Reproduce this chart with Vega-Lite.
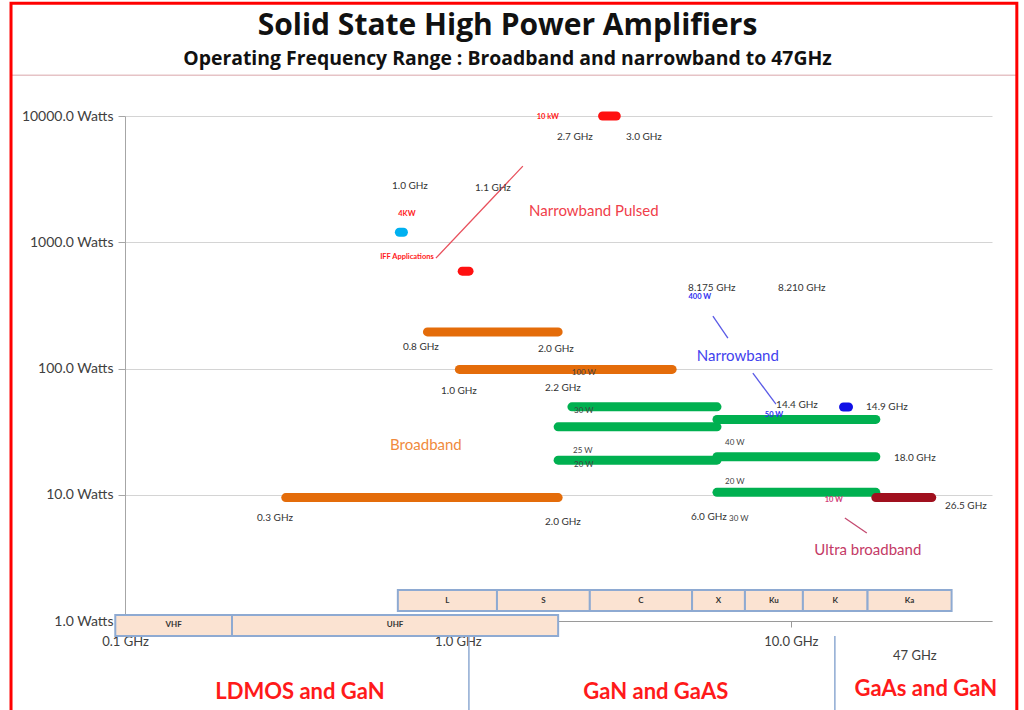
{
  "$schema": "https://vega.github.io/schema/vega-lite/v6.json",
  "width": 867,
  "height": 505,
  "autosize": {"type": "none"},
  "padding": {"left": 125, "top": 116, "right": 32, "bottom": 89},
  "background": "white",
  "title": {
    "text": "Solid State High Power Amplifiers",
    "subtitle": "Operating Frequency Range : Broadband and narrowband  to 47GHz",
    "anchor": "middle",
    "frame": "group",
    "dx": -51,
    "offset": -67,
    "font": "Open Sans",
    "fontSize": 30,
    "fontWeight": "bold",
    "color": "#111111",
    "subtitleFont": "Open Sans",
    "subtitleFontSize": 19.4,
    "subtitleFontWeight": "bold",
    "subtitleColor": "#111111",
    "subtitlePadding": 9
  },
  "datasets": {
    "frame": [{"f0": 0.04546, "f1": 47.73, "w0": 0.19, "w1": 78170}],
    "header": [{"f0": 0.04546, "f1": 47.73, "w": 21040}],
    "bars": [
      {"kind": "Broadband", "f0": 0.81, "f1": 2.0, "w": 195},
      {"kind": "Broadband", "f0": 1.01, "f1": 4.4, "w": 98.4},
      {"kind": "Broadband", "f0": 0.304, "f1": 2.0, "w": 9.5},
      {"kind": "GaN", "f0": 2.2, "f1": 6.0, "w": 49.7},
      {"kind": "GaN", "f0": 2.0, "f1": 6.0, "w": 34.5},
      {"kind": "GaN", "f0": 6.0, "f1": 18.0, "w": 39.5},
      {"kind": "GaN", "f0": 6.0, "f1": 18.0, "w": 20},
      {"kind": "GaN", "f0": 2.0, "f1": 6.0, "w": 18.8},
      {"kind": "GaN", "f0": 6.0, "f1": 18.0, "w": 10.45},
      {"kind": "Ultra broadband", "f0": 18.0, "f1": 26.5, "w": 9.5},
      {"kind": "Pulsed", "f0": 2.72, "f1": 2.99, "w": 10000},
      {"kind": "Pulsed", "f0": 1.03, "f1": 1.08, "w": 590},
      {"kind": "Pulsed L", "f0": 0.667, "f1": 0.686, "w": 1200},
      {"kind": "Narrowband", "f0": 14.4, "f1": 14.9, "w": 49.5}
    ],
    "leaders": [
      {"kind": "Pulsed", "f0": 0.8587, "w0": 748, "f1": 1.567, "w1": 4005},
      {"kind": "Narrowband", "f0": 5.833, "w0": 260, "f1": 6.47, "w1": 174},
      {"kind": "Narrowband", "f0": 7.69, "w0": 91.9, "f1": 9.02, "w1": 52.3},
      {"kind": "Ultra broadband", "f0": 14.53, "w0": 6.54, "f1": 16.91, "w1": 4.97}
    ],
    "bands": [
      {"band": "VHF", "f0": 0.0935, "f1": 0.2096, "w0": 0.761, "w1": 1.116},
      {"band": "UHF", "f0": 0.2096, "f1": 2.0, "w0": 0.761, "w1": 1.116},
      {"band": "L", "f0": 0.66, "f1": 1.31, "w0": 1.2, "w1": 1.76},
      {"band": "S", "f0": 1.31, "f1": 2.49, "w0": 1.2, "w1": 1.76},
      {"band": "C", "f0": 2.49, "f1": 5.05, "w0": 1.2, "w1": 1.76},
      {"band": "X", "f0": 5.05, "f1": 7.28, "w0": 1.2, "w1": 1.76},
      {"band": "Ku", "f0": 7.28, "f1": 10.87, "w0": 1.2, "w1": 1.76},
      {"band": "K", "f0": 10.87, "f1": 17.0, "w0": 1.2, "w1": 1.76},
      {"band": "Ka", "f0": 17.0, "f1": 30.4, "w0": 1.2, "w1": 1.76}
    ],
    "dividers": [
      {"f": 1.079, "w0": 0.761, "w1": 0.19},
      {"f": 13.56, "w0": 0.761, "w1": 0.19}
    ],
    "freqLabels": [
      {"label": "2.7 GHz", "f": 2.245, "w": 6795},
      {"label": "3.0 GHz", "f": 3.62, "w": 6795},
      {"label": "1.0 GHz", "f": 0.7177, "w": 2782},
      {"label": "1.1 GHz", "f": 1.274, "w": 2682},
      {"label": "8.175 GHz", "f": 5.79, "w": 433},
      {"label": "8.210 GHz", "f": 10.79, "w": 433},
      {"label": "0.8 GHz", "f": 0.774, "w": 147.7},
      {"label": "2.0 GHz", "f": 1.969, "w": 142.4},
      {"label": "1.0 GHz", "f": 1.007, "w": 66.2},
      {"label": "2.2 GHz", "f": 2.067, "w": 70.0},
      {"label": "14.4 GHz", "f": 10.43, "w": 51.3},
      {"label": "14.9 GHz", "f": 19.43, "w": 49.5},
      {"label": "18.0 GHz", "f": 23.57, "w": 19.53},
      {"label": "26.5 GHz", "f": 33.55, "w": 8.14},
      {"label": "0.3 GHz", "f": 0.2822, "w": 6.54},
      {"label": "2.0 GHz", "f": 2.067, "w": 6.08},
      {"label": "6.0 GHz", "f": 5.673, "w": 6.66}
    ],
    "wattLabels": [
      {"label": "100 W", "f": 2.389, "w": 91.9},
      {"label": "30 W", "f": 2.389, "w": 46.0},
      {"label": "40 W", "f": 6.79, "w": 25.7},
      {"label": "25 W", "f": 2.373, "w": 22.18},
      {"label": "20 W", "f": 2.389, "w": 17.19},
      {"label": "20 W", "f": 6.79, "w": 12.61},
      {"label": "30 W", "f": 6.98, "w": 6.42}
    ],
    "notes": [
      {"label": "10 kW", "f": 1.863, "w": 9784, "kind": "Pulsed"},
      {"label": "4KW", "f": 0.7029, "w": 1669, "kind": "Pulsed"},
      {"label": "IFF Applications", "f": 0.7029, "w": 762, "kind": "Pulsed"},
      {"label": "400 W", "f": 5.33, "w": 367.6, "kind": "Narrowband"},
      {"label": "50 W", "f": 8.9, "w": 42.8, "kind": "Narrowband"},
      {"label": "10 W", "f": 13.46, "w": 9.08, "kind": "Ultra broadband"}
    ],
    "categories": [
      {"label": "Narrowband Pulsed", "f": 2.561, "w": 1763, "kind": "Pulsed"},
      {"label": "Narrowband", "f": 6.93, "w": 125.4, "kind": "Narrowband"},
      {"label": "Broadband", "f": 0.8014, "w": 24.75, "kind": "Broadband"},
      {"label": "Ultra broadband", "f": 17.03, "w": 3.65, "kind": "Ultra broadband"}
    ],
    "tech": [
      {"label": "LDMOS and GaN", "f": 0.3353, "w": 0.274},
      {"label": "GaN and GaAS", "f": 3.93, "w": 0.274},
      {"label": "GaAs and GaN", "f": 25.43, "w": 0.2894}
    ],
    "axisNote": [
      {"label": "47 GHz", "f": 23.57, "w": 0.528}
    ]
  },
  "layer": [
    {
      "data": {"name": "bars"},
      "mark": {"type": "rule", "strokeWidth": 9, "strokeCap": "round"},
      "encoding": {
        "x": {
          "field": "f0", "type": "quantitative",
          "scale": {"type": "log", "domain": [0.1, 40.2], "nice": false},
          "axis": {
            "values": [0.1, 1, 10],
            "labelExpr": "format(datum.value, '.1f') + ' GHz'",
            "title": null, "grid": false,
            "domainColor": "#9a9a9a", "tickColor": "#9a9a9a", "tickSize": 6,
            "labelPadding": 8, "labelFont": "Lato", "labelFontSize": 13,
            "labelColor": "#404040", "labelFlush": false, "labelOverlap": false
          }
        },
        "x2": {"field": "f1"},
        "y": {
          "field": "w", "type": "quantitative",
          "scale": {"type": "log", "domain": [1, 10000], "nice": false},
          "axis": {
            "values": [1, 10, 100, 1000, 10000],
            "labelExpr": "format(datum.value, '.1f') + ' Watts'",
            "title": null, "grid": true, "gridColor": "#d4d4d4",
            "domainColor": "#a6a6a6", "tickColor": "#a6a6a6", "tickSize": 7,
            "labelPadding": 5, "labelFont": "Lato", "labelFontSize": 14,
            "labelColor": "#404040", "labelFlush": false, "labelOverlap": false
          }
        },
        "color": {
          "field": "kind", "type": "nominal",
          "scale": {
            "domain": ["Broadband", "GaN", "Ultra broadband", "Pulsed", "Pulsed L", "Narrowband"],
            "range": ["#e46c0a", "#00b050", "#a0101e", "#ff1010", "#00b0f0", "#1010e6"]
          },
          "legend": null
        }
      }
    },
    {
      "data": {"name": "header"},
      "mark": {"type": "rule", "color": "#e6c3c6", "strokeWidth": 1.5},
      "encoding": {
        "x": {"field": "f0", "type": "quantitative", "scale": {"type": "log", "domain": [0.1, 40.2], "nice": false}, "axis": {"title": null}},
        "x2": {"field": "f1"},
        "y": {"field": "w", "type": "quantitative", "scale": {"type": "log", "domain": [1, 10000], "nice": false}, "axis": {"title": null}}
      }
    },
    {
      "data": {"name": "leaders"},
      "mark": {"type": "rule", "strokeWidth": 1.3},
      "encoding": {
        "x": {"field": "f0", "type": "quantitative", "scale": {"type": "log", "domain": [0.1, 40.2], "nice": false}, "axis": {"title": null}},
        "x2": {"field": "f1"},
        "y": {"field": "w0", "type": "quantitative", "scale": {"type": "log", "domain": [1, 10000], "nice": false}, "axis": {"title": null}},
        "y2": {"field": "w1"},
        "color": {
          "field": "kind", "type": "nominal",
          "scale": {"domain": ["Pulsed", "Narrowband", "Ultra broadband"], "range": ["#e8505c", "#5a5ae6", "#c44a70"]},
          "legend": null
        }
      }
    },
    {
      "data": {"name": "bands"},
      "mark": {"type": "rect", "fill": "#fbe3d2", "stroke": "#8eaad2", "strokeWidth": 2},
      "encoding": {
        "x": {"field": "f0", "type": "quantitative", "scale": {"type": "log", "domain": [0.1, 40.2], "nice": false}, "axis": {"title": null}},
        "x2": {"field": "f1"},
        "y": {"field": "w0", "type": "quantitative", "scale": {"type": "log", "domain": [1, 10000], "nice": false}, "axis": {"title": null}},
        "y2": {"field": "w1"}
      }
    },
    {
      "data": {"name": "bands"},
      "transform": [
        {"calculate": "sqrt(datum.f0 * datum.f1)", "as": "fc"},
        {"calculate": "sqrt(datum.w0 * datum.w1)", "as": "wc"}
      ],
      "mark": {"type": "text", "font": "Lato", "fontSize": 8, "fontWeight": "bold", "color": "#333333", "align": "center", "baseline": "middle"},
      "encoding": {
        "x": {"field": "fc", "type": "quantitative", "scale": {"type": "log", "domain": [0.1, 40.2], "nice": false}, "axis": {"title": null}},
        "y": {"field": "wc", "type": "quantitative", "scale": {"type": "log", "domain": [1, 10000], "nice": false}, "axis": {"title": null}},
        "text": {"field": "band"}
      }
    },
    {
      "data": {"name": "dividers"},
      "mark": {"type": "rule", "color": "#8eaad2", "strokeWidth": 1.5},
      "encoding": {
        "x": {"field": "f", "type": "quantitative", "scale": {"type": "log", "domain": [0.1, 40.2], "nice": false}, "axis": {"title": null}},
        "y": {"field": "w0", "type": "quantitative", "scale": {"type": "log", "domain": [1, 10000], "nice": false}, "axis": {"title": null}},
        "y2": {"field": "w1"}
      }
    },
    {
      "data": {"name": "freqLabels"},
      "mark": {"type": "text", "font": "Lato", "fontSize": 10, "color": "#333333", "align": "center", "baseline": "middle"},
      "encoding": {
        "x": {"field": "f", "type": "quantitative", "scale": {"type": "log", "domain": [0.1, 40.2], "nice": false}, "axis": {"title": null}},
        "y": {"field": "w", "type": "quantitative", "scale": {"type": "log", "domain": [1, 10000], "nice": false}, "axis": {"title": null}},
        "text": {"field": "label"}
      }
    },
    {
      "data": {"name": "wattLabels"},
      "mark": {"type": "text", "font": "Lato", "fontSize": 8, "color": "#404040", "align": "center", "baseline": "middle"},
      "encoding": {
        "x": {"field": "f", "type": "quantitative", "scale": {"type": "log", "domain": [0.1, 40.2], "nice": false}, "axis": {"title": null}},
        "y": {"field": "w", "type": "quantitative", "scale": {"type": "log", "domain": [1, 10000], "nice": false}, "axis": {"title": null}},
        "text": {"field": "label"}
      }
    },
    {
      "data": {"name": "notes"},
      "mark": {"type": "text", "font": "Lato", "fontSize": 7.5, "fontWeight": "bold", "align": "center", "baseline": "middle"},
      "encoding": {
        "x": {"field": "f", "type": "quantitative", "scale": {"type": "log", "domain": [0.1, 40.2], "nice": false}, "axis": {"title": null}},
        "y": {"field": "w", "type": "quantitative", "scale": {"type": "log", "domain": [1, 10000], "nice": false}, "axis": {"title": null}},
        "text": {"field": "label"},
        "color": {
          "field": "kind", "type": "nominal",
          "scale": {"domain": ["Pulsed", "Narrowband", "Ultra broadband"], "range": ["#ff2020", "#3030f0", "#d0407a"]},
          "legend": null
        }
      }
    },
    {
      "data": {"name": "categories"},
      "mark": {"type": "text", "font": "Lato", "fontSize": 15, "align": "center", "baseline": "middle"},
      "encoding": {
        "x": {"field": "f", "type": "quantitative", "scale": {"type": "log", "domain": [0.1, 40.2], "nice": false}, "axis": {"title": null}},
        "y": {"field": "w", "type": "quantitative", "scale": {"type": "log", "domain": [1, 10000], "nice": false}, "axis": {"title": null}},
        "text": {"field": "label"},
        "color": {
          "field": "kind", "type": "nominal",
          "scale": {"domain": ["Pulsed", "Narrowband", "Broadband", "Ultra broadband"], "range": ["#f0404a", "#4242ee", "#f08a3c", "#c43a66"]},
          "legend": null
        }
      }
    },
    {
      "data": {"name": "tech"},
      "mark": {"type": "text", "font": "Lato", "fontSize": 22, "fontWeight": "bold", "color": "#ff1a1a", "align": "center", "baseline": "middle"},
      "encoding": {
        "x": {"field": "f", "type": "quantitative", "scale": {"type": "log", "domain": [0.1, 40.2], "nice": false}, "axis": {"title": null}},
        "y": {"field": "w", "type": "quantitative", "scale": {"type": "log", "domain": [1, 10000], "nice": false}, "axis": {"title": null}},
        "text": {"field": "label"}
      }
    },
    {
      "data": {"name": "axisNote"},
      "mark": {"type": "text", "font": "Lato", "fontSize": 13, "color": "#404040", "align": "center", "baseline": "middle"},
      "encoding": {
        "x": {"field": "f", "type": "quantitative", "scale": {"type": "log", "domain": [0.1, 40.2], "nice": false}, "axis": {"title": null}},
        "y": {"field": "w", "type": "quantitative", "scale": {"type": "log", "domain": [1, 10000], "nice": false}, "axis": {"title": null}},
        "text": {"field": "label"}
      }
    },
    {
      "data": {"name": "frame"},
      "mark": {"type": "rect", "fill": null, "stroke": "#ff0000", "strokeWidth": 3},
      "encoding": {
        "x": {"field": "f0", "type": "quantitative", "scale": {"type": "log", "domain": [0.1, 40.2], "nice": false}, "axis": {"title": null}},
        "x2": {"field": "f1"},
        "y": {"field": "w0", "type": "quantitative", "scale": {"type": "log", "domain": [1, 10000], "nice": false}, "axis": {"title": null}},
        "y2": {"field": "w1"}
      }
    }
  ],
  "resolve": {"scale": {"color": "independent"}},
  "config": {"view": {"stroke": null}, "font": "Lato"}
}
